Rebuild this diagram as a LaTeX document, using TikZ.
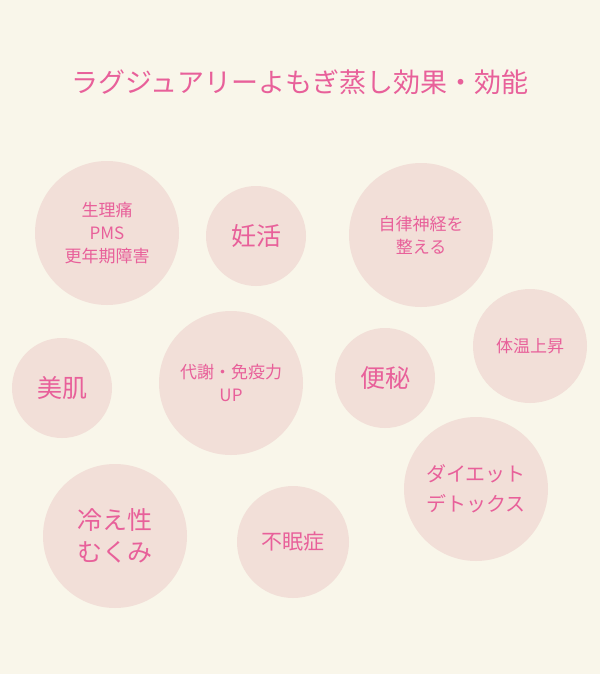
\documentclass[tikz,border=0pt]{standalone}
\usepackage{fontspec}
\newfontfamily\jp{Noto Sans CJK JP}
\definecolor{bg}{HTML}{F9F6EA}
\definecolor{cir}{HTML}{F2DFD8}
\definecolor{tx}{HTML}{E8609A}
\tikzset{
 c/.style={circle,fill=cir,minimum size=#1,inner sep=0pt,align=center,text=tx,font=\jp\fontsize{17}{23}\selectfont},
 big/.style={font=\jp\fontsize{25}{32}\selectfont}
}
\begin{document}
\begin{tikzpicture}[x=1pt,y=-1pt]
\fill[bg] (0,0) rectangle (600,674);
\useasboundingbox (0,0) rectangle (600,674);
\node[text=tx,font=\jp\fontsize{27}{30}\selectfont] (title) at (300,82) {ラグジュアリーよもぎ蒸し効果・効能};
\node[c=144] (a) at (107,233) {生理痛\\PMS\\更年期障害};
\node[c=100,big] (b) at (256,236) {妊活};
\node[c=144] (c) at (421,235) {自律神経を\\整える};
\node[c=114] (d) at (530,346) {体温上昇};
\node[c=100,big] (e) at (62,388) {美肌};
\node[c=144] (f) at (231,383) {代謝・免疫力\\UP};
\node[c=100,big] (g) at (385,378) {便秘};
\node[c=144,font=\jp\fontsize{20}{30}\selectfont] (h) at (476,489) {ダイエット\\デトックス};
\node[c=144,big] (i) at (115,536) {冷え性\\むくみ};
\node[c=112,font=\jp\fontsize{21}{26}\selectfont] (j) at (293,542) {不眠症};
\end{tikzpicture}
\end{document}
